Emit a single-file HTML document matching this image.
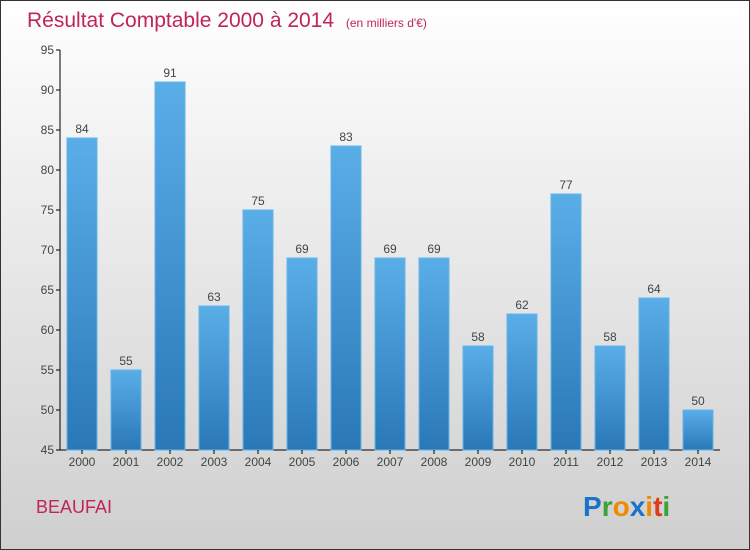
<!DOCTYPE html>
<html><head><meta charset="utf-8"><style>
body{margin:0;width:750px;height:550px;overflow:hidden}
#c{position:absolute;left:0;top:0;width:748px;height:548px;border:1px solid #333;background:linear-gradient(#fff,#f0f0f0 30%,#cfcfcf)}
text{font-family:"Liberation Sans",sans-serif}
</style></head><body>
<div id="c">
<svg id="s" width="750" height="550" style="position:absolute;left:-1px;top:-1px">
<defs><linearGradient id="g" x1="0" y1="0" x2="0" y2="1"><stop offset="0" stop-color="#5aaee8"/><stop offset="1" stop-color="#2a78b6"/></linearGradient></defs>
<text x="27" y="27" font-size="21" fill="#c0245a">Résultat Comptable 2000 à 2014 <tspan font-size="12" dx="6">(en milliers d'€)</tspan></text>
<text x="36" y="513" font-size="18" fill="#c0245a">BEAUFAI</text>
<text x="583" y="516" font-size="28" font-weight="bold"><tspan fill="#1a73c9">P</tspan><tspan fill="#3aa23a">r</tspan><tspan fill="#f08a00">o</tspan><tspan fill="#1a73c9">x</tspan><tspan fill="#f08a00">i</tspan><tspan fill="#e03a1a">t</tspan><tspan fill="#3aa23a">i</tspan></text>
</svg></div>
<script>
const categories=["2000","2001","2002","2003","2004","2005","2006","2007","2008","2009","2010","2011","2012","2013","2014"];
const values=[84,55,91,63,75,69,83,69,69,58,62,77,58,64,50];
const yTicks=[45,50,55,60,65,70,75,80,85,90,95];
const s=document.getElementById('s'),NS='http://www.w3.org/2000/svg';
const y=v=>450-(v-45)*8, x=i=>82+44*i;
function mk(t,a,txt){const e=document.createElementNS(NS,t);for(const k in a)e.setAttribute(k,a[k]);if(txt!=null)e.textContent=txt;s.appendChild(e);return e;}
let e=mk('line',{x1:60,y1:50,x2:60,y2:450,stroke:'#000'});


e=mk('line',{x1:60,y1:450,x2:720,y2:450,stroke:'#000'});


yTicks.forEach(t=>{
 e=mk('line',{x1:56,y1:y(t),x2:60,y2:y(t),stroke:'#000'});
 
 
 e=mk('text',{x:54,y:y(t)+4,'font-size':12,fill:'#444','text-anchor':'end'},t);
 
 
});
categories.forEach((c,i)=>{
 const v=values[i];
 e=mk('rect',{x:x(i)-15,y:y(v),width:30,height:450-y(v),fill:'url(#g)',stroke:'#62b4ee','stroke-width':1});
 
 
 e=mk('text',{x:x(i),y:y(v)-5,'font-size':12,fill:'#444','text-anchor':'middle'},v);
 
 
 e=mk('line',{x1:x(i),y1:450,x2:x(i),y2:454,stroke:'#000'});
 
 
 e=mk('text',{x:x(i),y:466,'font-size':12,fill:'#444','text-anchor':'middle'},c);
 
 
});
</script>
</body></html>
